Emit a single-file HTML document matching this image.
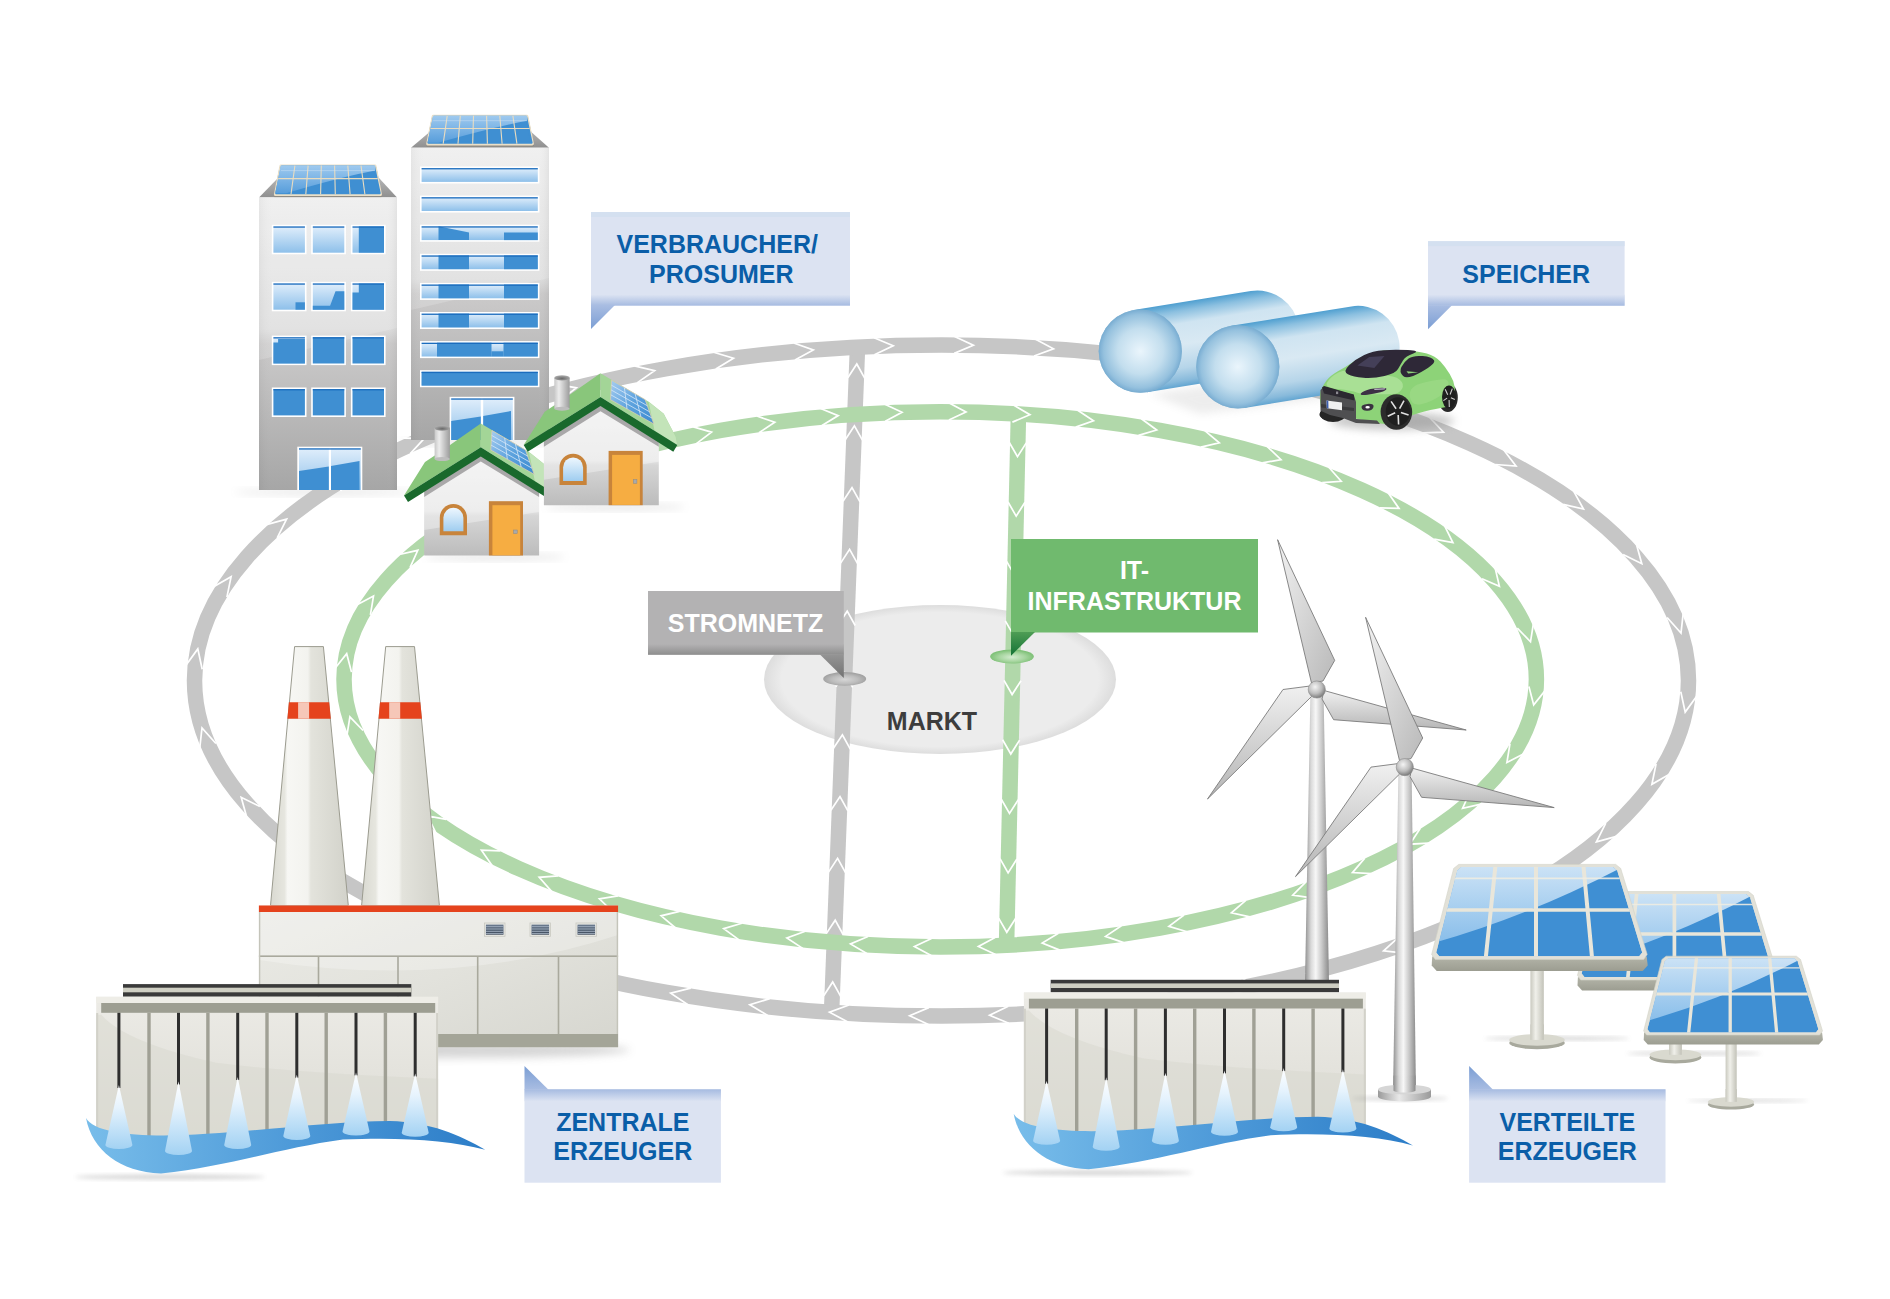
<!DOCTYPE html>
<html><head><meta charset="utf-8"><title>Smart Grid</title>
<style>html,body{margin:0;padding:0;background:#fff;overflow:hidden;}svg{display:block;}</style>
</head><body>
<svg width="1890" height="1299" viewBox="0 0 1890 1299">
<defs>

<filter id="blur4" x="-20%" y="-50%" width="140%" height="200%"><feGaussianBlur stdDeviation="4"/></filter>
<filter id="blur2" x="-20%" y="-50%" width="140%" height="200%"><feGaussianBlur stdDeviation="2"/></filter>
<filter id="blur6" x="-20%" y="-80%" width="140%" height="260%"><feGaussianBlur stdDeviation="6"/></filter>
<linearGradient id="lblBot" x1="0" y1="0" x2="0" y2="1"><stop offset="0" stop-color="#dce3f2"/><stop offset="1" stop-color="#a6bbe1"/></linearGradient>
<linearGradient id="lblTail" x1="0" y1="0" x2="0" y2="1"><stop offset="0" stop-color="#a9bde2"/><stop offset="1" stop-color="#7b9ed4"/></linearGradient>
<linearGradient id="lblTailUp" x1="0" y1="1" x2="0" y2="0"><stop offset="0" stop-color="#a9bde2"/><stop offset="1" stop-color="#7b9ed4"/></linearGradient>
<linearGradient id="lblTop" x1="0" y1="0" x2="0" y2="1"><stop offset="0" stop-color="#a6bbe1"/><stop offset="1" stop-color="#dce3f2"/></linearGradient>
<linearGradient id="grayBot" x1="0" y1="0" x2="0" y2="1"><stop offset="0" stop-color="#b3b2b3"/><stop offset="1" stop-color="#8e8e8e"/></linearGradient>
<linearGradient id="grayTail" x1="0" y1="0" x2="0" y2="1"><stop offset="0" stop-color="#959595"/><stop offset="1" stop-color="#727272"/></linearGradient>
<linearGradient id="greenTail" x1="0" y1="0" x2="0" y2="1"><stop offset="0" stop-color="#4f9d55"/><stop offset="1" stop-color="#137235"/></linearGradient>
<radialGradient id="nodeGray" cx="0.5" cy="0.55" r="0.5"><stop offset="0" stop-color="#d6d6d6"/><stop offset="0.6" stop-color="#bdbdbd"/><stop offset="1" stop-color="#a3a3a3"/></radialGradient>
<radialGradient id="nodeGreen" cx="0.5" cy="0.55" r="0.5"><stop offset="0" stop-color="#d4ecd0"/><stop offset="0.6" stop-color="#a6d59f"/><stop offset="1" stop-color="#7fc178"/></radialGradient>
<radialGradient id="marketG" cx="0.5" cy="0.5" r="0.5"><stop offset="0.9" stop-color="#ececec"/><stop offset="1" stop-color="#dddddd"/></radialGradient>


<linearGradient id="bldg" x1="0" y1="0" x2="0" y2="1">
 <stop offset="0" stop-color="#ededed"/><stop offset="0.45" stop-color="#dcdcdc"/>
 <stop offset="0.5" stop-color="#cbcaca"/><stop offset="1" stop-color="#a6a6a6"/></linearGradient>
<linearGradient id="bldgSide" x1="0" y1="0" x2="1" y2="0">
 <stop offset="0" stop-color="#000" stop-opacity="0.04"/><stop offset="0.1" stop-color="#fff" stop-opacity="0.0"/>
 <stop offset="0.92" stop-color="#fff" stop-opacity="0"/><stop offset="1" stop-color="#000" stop-opacity="0.05"/></linearGradient>
<linearGradient id="roofG" x1="0" y1="0" x2="0" y2="1"><stop offset="0" stop-color="#b4b4b4"/><stop offset="1" stop-color="#8f8f8f"/></linearGradient>
<linearGradient id="winL" x1="0" y1="0" x2="0" y2="1"><stop offset="0" stop-color="#e0eefb"/><stop offset="1" stop-color="#8ec0ea"/></linearGradient>
<linearGradient id="panelCell" x1="0" y1="0" x2="0" y2="1"><stop offset="0" stop-color="#a9d0f2"/><stop offset="1" stop-color="#5a9fdc"/></linearGradient>


<linearGradient id="houseBody" x1="0" y1="0" x2="0" y2="1">
 <stop offset="0" stop-color="#efefef"/><stop offset="0.55" stop-color="#e4e4e4"/><stop offset="0.6" stop-color="#d6d6d6"/><stop offset="1" stop-color="#bcbcbc"/></linearGradient>
<linearGradient id="chim" x1="0" y1="0" x2="1" y2="0">
 <stop offset="0" stop-color="#c8c8c8"/><stop offset="0.3" stop-color="#ececec"/><stop offset="1" stop-color="#9c9c9c"/></linearGradient>
<linearGradient id="archWin" x1="0" y1="0" x2="0" y2="1"><stop offset="0" stop-color="#eef7fe"/><stop offset="1" stop-color="#9fcdf0"/></linearGradient>
<linearGradient id="hpanel" x1="0" y1="0" x2="1" y2="1"><stop offset="0" stop-color="#a7cdf0"/><stop offset="0.5" stop-color="#5ea3de"/><stop offset="1" stop-color="#3a8ad0"/></linearGradient>
<radialGradient id="chimTop" cx="0.5" cy="0.6" r="0.6"><stop offset="0" stop-color="#6a6a6a"/><stop offset="1" stop-color="#b0b0b0"/></radialGradient>


<linearGradient id="chimG" x1="0" y1="0" x2="1" y2="0">
 <stop offset="0" stop-color="#d9d9d1"/><stop offset="0.18" stop-color="#e6e6df"/><stop offset="0.22" stop-color="#f7f7f4"/>
 <stop offset="0.48" stop-color="#f3f3ef"/><stop offset="0.52" stop-color="#e3e3dc"/><stop offset="1" stop-color="#d2d2ca"/></linearGradient>
<linearGradient id="facG" x1="0" y1="0" x2="1" y2="1">
 <stop offset="0" stop-color="#ebebe6"/><stop offset="0.5" stop-color="#e2e2dc"/><stop offset="1" stop-color="#d6d6cf"/></linearGradient>
<linearGradient id="ventG" x1="0" y1="0" x2="0" y2="1"><stop offset="0" stop-color="#6b7b90"/><stop offset="1" stop-color="#3f4b5c"/></linearGradient>
<linearGradient id="damG" x1="0" y1="0" x2="0" y2="1">
 <stop offset="0" stop-color="#ecebe6"/><stop offset="1" stop-color="#dddcd5"/></linearGradient>
<linearGradient id="waterG" x1="0" y1="0" x2="1" y2="0">
 <stop offset="0" stop-color="#78bdea"/><stop offset="0.5" stop-color="#4f9bd9"/><stop offset="1" stop-color="#2c7dc8"/></linearGradient>
<linearGradient id="coneG" x1="0" y1="0" x2="0" y2="1">
 <stop offset="0" stop-color="#ffffff"/><stop offset="0.35" stop-color="#e6f3fd"/><stop offset="1" stop-color="#a3d2f3"/></linearGradient>


<linearGradient id="towerG" x1="0" y1="0" x2="1" y2="0">
 <stop offset="0" stop-color="#8f8f8f"/><stop offset="0.25" stop-color="#d9d9d9"/><stop offset="0.45" stop-color="#f7f7f7"/>
 <stop offset="0.7" stop-color="#c9c9c9"/><stop offset="1" stop-color="#8a8a8a"/></linearGradient>
<linearGradient id="bladeG" x1="0" y1="0" x2="1" y2="1">
 <stop offset="0" stop-color="#f2f2f2"/><stop offset="1" stop-color="#b9b9b9"/></linearGradient>
<linearGradient id="bladeG2" x1="0" y1="0" x2="0" y2="1">
 <stop offset="0" stop-color="#f0f0f0"/><stop offset="1" stop-color="#b5b5b5"/></linearGradient>
<radialGradient id="hubG" cx="0.4" cy="0.35" r="0.65"><stop offset="0" stop-color="#f4f4f4"/><stop offset="0.6" stop-color="#bdbdbd"/><stop offset="1" stop-color="#7d7d7d"/></radialGradient>
<linearGradient id="baseG" x1="0" y1="0" x2="1" y2="0"><stop offset="0" stop-color="#9a9a9a"/><stop offset="0.4" stop-color="#e8e8e8"/><stop offset="1" stop-color="#9a9a9a"/></linearGradient>


<linearGradient id="spBlueLight" x1="0" y1="0" x2="0" y2="1"><stop offset="0" stop-color="#d5e8f8"/><stop offset="1" stop-color="#8cc0eb"/></linearGradient>
<linearGradient id="spBand" x1="0" y1="0" x2="0" y2="1"><stop offset="0" stop-color="#b4b5a9"/><stop offset="1" stop-color="#9c9d91"/></linearGradient>
<linearGradient id="poleG" x1="0" y1="0" x2="1" y2="0"><stop offset="0" stop-color="#c9c9bf"/><stop offset="0.4" stop-color="#f0f0ea"/><stop offset="1" stop-color="#c2c2b8"/></linearGradient>

<linearGradient id="tk1" gradientUnits="userSpaceOnUse" x1="1133.6" y1="310.1" x2="1147.0" y2="392.3">
 <stop offset="0" stop-color="#4f9fd0"/><stop offset="0.1" stop-color="#8cc0e0"/><stop offset="0.25" stop-color="#cfe4f1"/>
 <stop offset="0.5" stop-color="#d9e9f3"/><stop offset="0.78" stop-color="#b6d5e9"/><stop offset="0.93" stop-color="#88badb"/><stop offset="1" stop-color="#62a5d1"/></linearGradient>
<radialGradient id="tk1S" cx="0.5" cy="0.5" r="0.5" fx="0.5" fy="0.5">
 <stop offset="0" stop-color="#eaf5fc"/><stop offset="0.55" stop-color="#c3deee"/><stop offset="0.88" stop-color="#95c1de"/><stop offset="1" stop-color="#78acd2"/></radialGradient>
<linearGradient id="tk2" gradientUnits="userSpaceOnUse" x1="1231.2" y1="325.7" x2="1244.4" y2="407.9">
 <stop offset="0" stop-color="#4f9fd0"/><stop offset="0.1" stop-color="#8cc0e0"/><stop offset="0.25" stop-color="#cfe4f1"/>
 <stop offset="0.5" stop-color="#d9e9f3"/><stop offset="0.78" stop-color="#b6d5e9"/><stop offset="0.93" stop-color="#88badb"/><stop offset="1" stop-color="#62a5d1"/></linearGradient>
<radialGradient id="tk2S" cx="0.5" cy="0.5" r="0.5" fx="0.5" fy="0.5">
 <stop offset="0" stop-color="#eaf5fc"/><stop offset="0.55" stop-color="#c3deee"/><stop offset="0.88" stop-color="#95c1de"/><stop offset="1" stop-color="#78acd2"/></radialGradient>
</defs>
<rect width="1890" height="1299" fill="#ffffff"/>
<ellipse cx="325.0" cy="492.0" rx="90.0" ry="3.0" fill="#808080" opacity="0.20" filter="url(#blur4)"/>
<ellipse cx="480.0" cy="442.0" rx="80.0" ry="3.0" fill="#808080" opacity="0.25" filter="url(#blur4)"/>
<ellipse cx="495.0" cy="557.0" rx="70.0" ry="3.0" fill="#808080" opacity="0.22" filter="url(#blur4)"/>
<ellipse cx="615.0" cy="507.0" rx="70.0" ry="3.0" fill="#808080" opacity="0.22" filter="url(#blur4)"/>
<ellipse cx="940" cy="679.5" rx="176" ry="74.5" fill="url(#marketG)"/>
<line x1="857.6" y1="345" x2="831.4" y2="1016" stroke="#c6c6c6" stroke-width="15.5"/>
<path d="M864.8 378.3L856.8 364.0L847.8 377.7M862.4 440.1L854.4 425.8L845.4 439.5M860.0 501.9L852.0 487.6L843.0 501.3M857.6 563.7L849.6 549.4L840.6 563.1M855.2 625.5L847.2 611.2L838.2 624.9M852.7 687.3L844.8 673.0L835.8 686.7M850.3 749.1L842.4 734.8L833.3 748.5M847.9 810.9L840.0 796.6L830.9 810.3M845.5 872.7L837.6 858.4L828.5 872.1M843.1 934.5L835.2 920.2L826.1 933.9M840.7 996.3L832.7 982.0L823.7 995.7" fill="none" stroke="#fff" stroke-width="1.7"/>
<ellipse cx="941.5" cy="680.5" rx="747.0" ry="335.5" fill="none" stroke="#c6c6c6" stroke-width="15.5"/>
<path d="M874.4 354.8L893.2 345.7L874.0 337.8M954.2 353.4L973.4 345.3L954.6 336.4M1034.0 356.0L1053.5 348.8L1035.1 339.0M1113.3 362.4L1133.2 356.2L1115.3 345.5M1192.2 372.9L1212.3 367.8L1195.1 356.2M1270.4 387.8L1290.8 383.9L1274.3 371.3M1347.5 407.6L1368.1 405.1L1352.5 391.3M1422.7 432.8L1443.5 432.1L1429.2 417.0M1495.3 464.5L1516.0 466.1L1503.4 449.6M1563.2 504.3L1583.5 509.0L1573.5 490.8M1623.1 554.5L1641.8 563.7L1636.2 543.6M1667.1 617.5L1681.0 633.0L1683.3 612.3M1680.8 691.7L1685.2 712.1L1697.4 695.2M1656.1 763.9L1651.9 784.3L1669.9 773.9M1605.8 823.2L1596.4 841.9L1616.5 836.4M1542.5 870.1L1530.3 887.0L1551.0 884.9M1472.7 907.3L1458.6 922.6L1479.5 922.9M1399.0 936.9L1383.6 950.9L1404.3 953.1M1323.1 960.3L1306.7 973.2L1327.2 976.8M1245.6 978.4L1228.4 990.3L1248.7 995.1M1167.2 991.9L1149.5 1002.7L1169.4 1008.7M1088.0 1001.1L1069.7 1011.0L1089.3 1018.0M1008.3 1006.3L989.6 1015.3L1008.8 1023.3M928.8 1007.6L909.6 1015.7L928.4 1024.6M849.0 1005.0L829.5 1012.2L847.9 1022.0M769.7 998.6L749.8 1004.8L767.7 1015.5M690.8 988.1L670.7 993.2L687.9 1004.8M612.6 973.2L592.2 977.1L608.7 989.7M535.5 953.4L514.9 955.9L530.5 969.7M460.3 928.2L439.5 928.9L453.8 944.0M387.7 896.5L367.0 894.9L379.6 911.4M319.8 856.7L299.5 852.0L309.5 870.2M259.9 806.5L241.2 797.3L246.8 817.4M215.9 743.5L202.0 728.0L199.7 748.7M202.2 669.3L197.8 648.9L185.6 665.8M226.9 597.1L231.1 576.7L213.1 587.1M277.2 537.8L286.6 519.1L266.5 524.6M340.5 490.9L352.7 474.0L332.0 476.1M410.3 453.7L424.4 438.4L403.5 438.1M484.0 424.1L499.4 410.1L478.7 407.9M559.9 400.7L576.3 387.8L555.8 384.2M637.4 382.6L654.6 370.7L634.3 365.9M715.8 369.1L733.5 358.3L713.6 352.3M795.0 359.9L813.3 350.0L793.7 343.0" fill="none" stroke="#fff" stroke-width="1.7" stroke-linejoin="miter"/>
<line x1="1018.5" y1="412" x2="1006.5" y2="947" stroke="#b1d8aa" stroke-width="15.5"/>
<path d="M1009.3 442.5L1017.5 456.7L1026.3 442.9M1008.0 502.0L1016.2 516.1L1025.0 502.3M1006.6 561.4L1014.8 575.6L1023.6 561.8M1005.3 620.9L1013.5 635.1L1022.3 621.2M1004.0 680.3L1012.1 694.5L1021.0 680.7M1002.6 739.8L1010.8 754.0L1019.6 740.1M1001.3 799.2L1009.5 813.4L1018.3 799.6M1000.0 858.7L1008.1 872.9L1016.9 859.0M998.6 918.1L1006.8 932.3L1015.6 918.5" fill="none" stroke="#fff" stroke-width="1.7"/>
<ellipse cx="940.2" cy="679.3" rx="596.2" ry="267.6" fill="none" stroke="#b1d8aa" stroke-width="15.5"/>
<path d="M885.3 421.2L902.0 412.2L884.8 404.2M948.9 420.1L966.0 412.0L949.2 403.1M1012.4 422.1L1029.9 414.7L1013.6 405.1M1075.7 427.1L1093.5 420.7L1077.7 410.2M1138.5 435.4L1156.7 430.0L1141.4 418.7M1200.8 447.2L1219.3 442.8L1204.8 430.6M1262.3 462.8L1281.0 459.7L1267.3 446.6M1322.2 482.7L1341.2 481.3L1328.6 467.0M1380.0 507.8L1399.0 508.4L1388.1 492.8M1434.2 539.2L1452.9 542.7L1444.5 525.7M1482.0 578.7L1499.4 586.4L1495.1 567.9M1517.3 628.1L1530.5 641.8L1533.5 623.0M1528.9 686.5L1533.7 704.9L1545.5 690.1M1510.0 743.7L1506.9 762.5L1523.8 753.7M1470.4 791.0L1462.6 808.3L1481.1 804.1M1420.3 828.3L1409.8 844.2L1428.8 843.1M1364.8 858.1L1352.5 872.6L1371.5 873.7M1306.2 881.7L1292.8 895.1L1311.6 897.9M1245.8 900.4L1231.4 912.8L1249.9 916.9M1184.0 915.0L1168.9 926.4L1187.1 931.7M1121.4 925.8L1105.6 936.4L1123.6 942.6M1058.4 933.2L1042.2 943.0L1059.8 950.1M995.1 937.4L978.4 946.4L995.6 954.4M931.5 938.5L914.4 946.6L931.2 955.5M868.0 936.5L850.5 943.9L866.8 953.5M804.7 931.5L786.9 937.9L802.7 948.4M741.9 923.2L723.7 928.6L739.0 939.9M679.6 911.4L661.1 915.8L675.6 928.0M618.1 895.8L599.4 898.9L613.1 912.0M558.2 875.9L539.2 877.3L551.8 891.6M500.4 850.8L481.4 850.2L492.3 865.8M446.2 819.4L427.5 815.9L435.9 832.9M398.4 779.9L381.0 772.2L385.3 790.7M363.1 730.5L349.9 716.8L346.9 735.6M351.5 672.1L346.7 653.7L334.9 668.5M370.4 614.9L373.5 596.1L356.6 604.9M410.0 567.6L417.8 550.3L399.3 554.5M460.1 530.3L470.6 514.4L451.6 515.5M515.6 500.5L527.9 486.0L508.9 484.9M574.2 476.9L587.6 463.5L568.8 460.7M634.6 458.2L649.0 445.8L630.5 441.7M696.4 443.6L711.5 432.2L693.3 426.9M759.0 432.8L774.8 422.2L756.8 416.0M822.0 425.4L838.2 415.6L820.6 408.5" fill="none" stroke="#fff" stroke-width="1.7" stroke-linejoin="miter"/>
<ellipse cx="844.7" cy="678.9" rx="21.5" ry="6.8" fill="url(#nodeGray)"/>
<ellipse cx="1012" cy="656.5" rx="21.8" ry="7.1" fill="url(#nodeGreen)"/>
<rect x="648" y="591" width="195.8" height="63.7" fill="#b3b2b3"/>
<rect x="648" y="644" width="195.8" height="10.7" fill="url(#grayBot)"/>
<path d="M819.7 654.2L843.8 654.2L843.8 678Z" fill="url(#grayTail)"/>
<text x="745.5" y="632" text-anchor="middle" font-family="Liberation Sans, sans-serif" font-weight="bold" font-size="25" fill="#ffffff">STROMNETZ</text>
<rect x="1011" y="539" width="247" height="93.5" fill="#70ba6e"/>
<path d="M1011 632L1035 632L1011 655.7Z" fill="url(#greenTail)"/>
<text x="1134.5" y="578.7" text-anchor="middle" font-family="Liberation Sans, sans-serif" font-weight="bold" font-size="25" fill="#ffffff">IT-</text>
<text x="1134.5" y="610" text-anchor="middle" font-family="Liberation Sans, sans-serif" font-weight="bold" font-size="25" fill="#ffffff">INFRASTRUKTUR</text>
<text x="932" y="730" text-anchor="middle" font-family="Liberation Sans, sans-serif" font-weight="bold" font-size="25" fill="#3d3d3d">MARKT</text>
<path d="M259 197.5L278 178L379 178L397 197.5Z" fill="url(#roofG)"/>
<path d="M280.9 168.0L375.0 168.0L380.5 196.0L275.4 196.0Z" fill="#8e8b84" stroke="#8e8b84" stroke-width="3" stroke-linejoin="round"/>
<path d="M280.9 166.0L375.0 166.0L380.5 194.5L275.4 194.5Z" fill="#ebe0c8" stroke="#ebe0c8" stroke-width="3" stroke-linejoin="round"/>
<path d="M281.7 166.6L374.2 166.6L379.7 193.3L276.2 193.3Z" fill="#3f8fd2" stroke="#3f8fd2" stroke-width="2" stroke-linejoin="round"/>
<path d="M280.7 165.6L375.2 165.6L375.2 170.6Q342.9 176.6 286.2 193.3L275.2 193.3Z" fill="url(#panelCell)" opacity="0.9"/>
<path d="M294.9 165.6L291.0 194.3M308.1 165.6L305.8 194.3M321.3 165.6L320.6 194.3M334.6 165.6L335.3 194.3M347.8 165.6L350.1 194.3M361.0 165.6L364.9 194.3M278.2 178.6L377.7 178.6" stroke="#e9dcc0" stroke-width="1.1" fill="none"/>
<path d="M280.9 170.6L375.0 170.6" stroke="#cfe3f5" stroke-width="0.6" fill="none" opacity="0.8"/>
<rect x="259" y="197.3" width="138" height="292.7" fill="url(#bldg)"/>
<path d="M259 197.3L397 197.3L397 328L259 360Z" fill="#ffffff" opacity="0.18"/>
<rect x="259" y="197.3" width="138" height="292.7" fill="url(#bldgSide)"/>
<rect x="271.8" y="224.8" width="34.7" height="29.5" fill="#ffffff"/>
<rect x="273.4" y="226.4" width="31.5" height="26.3" fill="url(#winL)"/>
<rect x="273.4" y="226.4" width="31.5" height="1.3" fill="#1b6cbd"/>
<rect x="311.2" y="224.8" width="34.7" height="29.5" fill="#ffffff"/>
<rect x="312.8" y="226.4" width="31.5" height="26.3" fill="url(#winL)"/>
<rect x="312.8" y="226.4" width="31.5" height="1.3" fill="#1b6cbd"/>
<rect x="350.9" y="224.8" width="34.7" height="29.5" fill="#ffffff"/>
<rect x="352.5" y="226.4" width="31.5" height="26.3" fill="url(#winL)"/>
<path d="M358.8 226.4L384.0 226.4L384.0 252.7L358.8 252.7Z" fill="#3f8fd2"/>
<rect x="352.5" y="226.4" width="31.5" height="1.3" fill="#1b6cbd"/>
<rect x="271.8" y="281.8" width="34.7" height="29.5" fill="#ffffff"/>
<rect x="273.4" y="283.4" width="31.5" height="26.3" fill="url(#winL)"/>
<path d="M295.5 302.3L304.9 302.3L304.9 309.7L295.5 309.7Z" fill="#3f8fd2"/>
<rect x="273.4" y="283.4" width="31.5" height="1.3" fill="#1b6cbd"/>
<rect x="311.2" y="281.8" width="34.7" height="29.5" fill="#ffffff"/>
<rect x="312.8" y="283.4" width="31.5" height="26.3" fill="url(#winL)"/>
<path d="M312.8 305.8L330.1 305.8L335.5 291.3L344.3 291.3L344.3 309.7L312.8 309.7Z" fill="#3f8fd2"/>
<rect x="312.8" y="283.4" width="31.5" height="1.3" fill="#1b6cbd"/>
<rect x="350.9" y="281.8" width="34.7" height="29.5" fill="#ffffff"/>
<rect x="352.5" y="283.4" width="31.5" height="26.3" fill="url(#winL)"/>
<path d="M358.8 283.4L384.0 283.4L384.0 309.7L352.5 309.7L352.5 292.6L358.8 292.6Z" fill="#3f8fd2"/>
<rect x="352.5" y="283.4" width="31.5" height="1.3" fill="#1b6cbd"/>
<rect x="271.8" y="335.6" width="34.7" height="29.5" fill="#ffffff"/>
<rect x="273.4" y="337.2" width="31.5" height="26.3" fill="url(#winL)"/>
<path d="M273.4 342.5L278.1 342.5L278.1 339.0L304.9 339.0L304.9 363.5L273.4 363.5Z" fill="#3f8fd2"/>
<rect x="273.4" y="337.2" width="31.5" height="1.3" fill="#1b6cbd"/>
<rect x="311.2" y="335.6" width="34.7" height="29.5" fill="#ffffff"/>
<rect x="312.8" y="337.2" width="31.5" height="26.3" fill="#3f8fd2"/>
<rect x="312.8" y="337.2" width="31.5" height="1.3" fill="#1b6cbd"/>
<rect x="350.9" y="335.6" width="34.7" height="29.5" fill="#ffffff"/>
<rect x="352.5" y="337.2" width="31.5" height="26.3" fill="#3f8fd2"/>
<rect x="352.5" y="337.2" width="31.5" height="1.3" fill="#1b6cbd"/>
<rect x="271.8" y="387.5" width="34.7" height="29.5" fill="#ffffff"/>
<rect x="273.4" y="389.1" width="31.5" height="26.3" fill="#3f8fd2"/>
<rect x="273.4" y="389.1" width="31.5" height="1.3" fill="#1b6cbd"/>
<rect x="311.2" y="387.5" width="34.7" height="29.5" fill="#ffffff"/>
<rect x="312.8" y="389.1" width="31.5" height="26.3" fill="#3f8fd2"/>
<rect x="312.8" y="389.1" width="31.5" height="1.3" fill="#1b6cbd"/>
<rect x="350.9" y="387.5" width="34.7" height="29.5" fill="#ffffff"/>
<rect x="352.5" y="389.1" width="31.5" height="26.3" fill="#3f8fd2"/>
<rect x="352.5" y="389.1" width="31.5" height="1.3" fill="#1b6cbd"/>
<rect x="297.3" y="446.7" width="65" height="43.3" fill="#ffffff"/>
<rect x="299" y="448.3" width="29.8" height="41.7" fill="url(#winL)"/>
<rect x="331" y="448.3" width="29.8" height="41.7" fill="url(#winL)"/>
<path d="M299 471L328.8 466.5L328.8 490L299 490Z" fill="#3f8fd2"/>
<path d="M331 466L359.5 461L359.5 490L331 490Z" fill="#3f8fd2"/>
<rect x="299" y="448.3" width="61.8" height="1.3" fill="#1b6cbd"/>
<path d="M411 147.8L432 130L529 130L549 147.8Z" fill="url(#roofG)"/>
<path d="M433.2 118.2L526.9 118.2L532.4 145.4L427.7 145.4Z" fill="#8e8b84" stroke="#8e8b84" stroke-width="3" stroke-linejoin="round"/>
<path d="M433.2 116.2L526.9 116.2L532.4 143.9L427.7 143.9Z" fill="#ebe0c8" stroke="#ebe0c8" stroke-width="3" stroke-linejoin="round"/>
<path d="M434.0 116.8L526.1 116.8L531.6 142.7L428.5 142.7Z" fill="#3f8fd2" stroke="#3f8fd2" stroke-width="2" stroke-linejoin="round"/>
<path d="M433.0 115.8L527.1 115.8L527.1 120.8Q495.1 126.8 438.5 142.7L427.5 142.7Z" fill="url(#panelCell)" opacity="0.9"/>
<path d="M447.2 115.8L443.2 143.7M460.3 115.8L458.0 143.7M473.5 115.8L472.7 143.7M486.6 115.8L487.4 143.7M499.8 115.8L502.1 143.7M512.9 115.8L516.9 143.7M430.5 128.5L529.6 128.5" stroke="#e9dcc0" stroke-width="1.1" fill="none"/>
<path d="M433.2 120.7L526.9 120.7" stroke="#cfe3f5" stroke-width="0.6" fill="none" opacity="0.8"/>
<rect x="411" y="147.7" width="138" height="292.3" fill="url(#bldg)"/>
<path d="M411 147.7L549 147.7L549 278L411 310Z" fill="#ffffff" opacity="0.18"/>
<rect x="411" y="147.7" width="138" height="292.3" fill="url(#bldgSide)"/>
<rect x="420.0" y="166.5" width="119.4" height="17" fill="#ffffff"/>
<rect x="421.6" y="168.1" width="116.2" height="13.8" fill="url(#winL)"/>
<rect x="421.6" y="168.1" width="116.2" height="1.3" fill="#1b6cbd"/>
<rect x="420.0" y="195.6" width="119.4" height="17" fill="#ffffff"/>
<rect x="421.6" y="197.2" width="116.2" height="13.8" fill="url(#winL)"/>
<rect x="421.6" y="197.2" width="116.2" height="1.3" fill="#1b6cbd"/>
<rect x="420.0" y="224.7" width="119.4" height="17" fill="#ffffff"/>
<rect x="421.6" y="226.3" width="116.2" height="13.8" fill="url(#winL)"/>
<path d="M438.5 226.3L469.0 232.5L469.0 240.1L438.5 240.1Z" fill="#3f8fd2"/>
<rect x="504.0" y="232.5" width="33.8" height="7.6" fill="#3f8fd2"/>
<rect x="421.6" y="226.3" width="116.2" height="1.3" fill="#1b6cbd"/>
<rect x="420.0" y="253.8" width="119.4" height="17" fill="#ffffff"/>
<rect x="421.6" y="255.4" width="116.2" height="13.8" fill="url(#winL)"/>
<rect x="438.5" y="255.4" width="30.5" height="13.8" fill="#3f8fd2"/>
<rect x="504.0" y="255.4" width="33.8" height="13.8" fill="#3f8fd2"/>
<rect x="421.6" y="255.4" width="116.2" height="1.3" fill="#1b6cbd"/>
<rect x="420.0" y="282.9" width="119.4" height="17" fill="#ffffff"/>
<rect x="421.6" y="284.5" width="116.2" height="13.8" fill="url(#winL)"/>
<rect x="438.5" y="284.5" width="30.5" height="13.8" fill="#3f8fd2"/>
<rect x="504.0" y="284.5" width="33.8" height="13.8" fill="#3f8fd2"/>
<rect x="421.6" y="284.5" width="116.2" height="1.3" fill="#1b6cbd"/>
<rect x="420.0" y="312.0" width="119.4" height="17" fill="#ffffff"/>
<rect x="421.6" y="313.6" width="116.2" height="13.8" fill="url(#winL)"/>
<rect x="438.5" y="313.6" width="30.5" height="13.8" fill="#3f8fd2"/>
<rect x="504.0" y="313.6" width="33.8" height="13.8" fill="#3f8fd2"/>
<rect x="421.6" y="313.6" width="116.2" height="1.3" fill="#1b6cbd"/>
<rect x="420.0" y="341.1" width="119.4" height="17" fill="#ffffff"/>
<rect x="421.6" y="342.7" width="116.2" height="13.8" fill="url(#winL)"/>
<rect x="437.0" y="342.7" width="54.5" height="13.8" fill="#3f8fd2"/>
<rect x="491.5" y="351.3" width="12.0" height="5.2" fill="#3f8fd2"/>
<rect x="503.5" y="342.7" width="34.3" height="13.8" fill="#3f8fd2"/>
<rect x="421.6" y="342.7" width="116.2" height="1.3" fill="#1b6cbd"/>
<rect x="420.0" y="370.2" width="119.4" height="17" fill="#ffffff"/>
<rect x="421.6" y="371.8" width="116.2" height="13.8" fill="url(#winL)"/>
<rect x="421.6" y="371.8" width="116.2" height="13.8" fill="#3f8fd2"/>
<rect x="421.6" y="371.8" width="116.2" height="1.3" fill="#1b6cbd"/>
<rect x="449.6" y="396.8" width="64.8" height="43.2" fill="#ffffff"/>
<rect x="451.2" y="398.4" width="29.6" height="41.6" fill="url(#winL)"/>
<rect x="483.2" y="398.4" width="29.6" height="41.6" fill="url(#winL)"/>
<path d="M451.2 421L480.8 416.5L480.8 440L451.2 440Z" fill="#3f8fd2"/>
<path d="M483.2 416L511 411L511 440L483.2 440Z" fill="#3f8fd2"/>
<rect x="451.2" y="398.4" width="61.6" height="1.3" fill="#1b6cbd"/>
<path d="M404.0 495.4L425.0 462.0L440.0 452.0L480.8 423.6L480.8 447.2Z" fill="#89c67b"/>
<path d="M480.8 423.6L529.0 452.0L544.0 464.0L556.0 487.0L557.6 495.4L480.8 447.2Z" fill="#a3d597"/>
<path d="M529.0 452.0L544.0 464.0L556.0 487.0L557.6 495.4L535.0 482.0Z" fill="#c3e4b9"/>
<rect x="434.6" y="428.0" width="15.3" height="31" fill="url(#chim)"/>
<ellipse cx="442.2" cy="428.2" rx="7.7" ry="2.6" fill="url(#chimTop)"/>
<ellipse cx="442.2" cy="459.0" rx="7.65" ry="2" fill="#bdbdbd"/>
<path d="M491.9 430.5L525.5 450.0L534.2 474.3L490.8 450.0Z" fill="url(#hpanel)" stroke="#d8cdb4" stroke-width="0.8"/>
<path d="M504.7 437.9L507.3 459.2M515.4 444.1L521.2 467.0M491.6 435.4L527.7 456.1M491.4 440.2L529.9 462.1M491.1 445.1L532.0 468.2" stroke="#d6e8f7" stroke-width="0.9" fill="none" opacity="0.9"/>
<path d="M424.2 555.5L424.2 492.0L480.8 456.0L539.1 492.0L539.1 555.5Z" fill="url(#houseBody)"/>
<path d="M424.2 492.0L480.8 456.0L539.1 492.0L539.1 512.0L424.2 530.0Z" fill="#ffffff" opacity="0.35"/>
<path d="M424.2 491.0L480.8 455.5L539.1 491.0L539.1 497.0L480.8 461.5L424.2 497.0Z" fill="#a9a8a9"/>
<path d="M404.0 495.4L480.8 447.2L557.6 495.4L553.6 502.0L480.8 456.4L408.0 502.0Z" fill="#19692c"/>
<path d="M439.8 535.3L439.8 517.7A13.6 13.6 0 0 1 467.0 517.7L467.0 535.3Z" fill="#c8843b"/>
<path d="M443.4 531.3L443.4 517.7A10.0 10.0 0 0 1 463.4 517.7L463.4 531.3Z" fill="url(#archWin)"/>
<rect x="488.9" y="501.2" width="34.1" height="54.3" fill="#c8843b"/>
<rect x="492.4" y="505.2" width="27.8" height="50" fill="#f6ad42"/>
<rect x="513.6" y="530.0" width="3.6" height="3.6" fill="#a9a9a9" stroke="#8a8a8a" stroke-width="0.5"/>
<path d="M523.7 445.1L544.7 411.7L559.7 401.7L600.5 373.3L600.5 396.9Z" fill="#89c67b"/>
<path d="M600.5 373.3L648.7 401.7L663.7 413.7L675.7 436.7L677.3 445.1L600.5 396.9Z" fill="#a3d597"/>
<path d="M648.7 401.7L663.7 413.7L675.7 436.7L677.3 445.1L654.7 431.7Z" fill="#c3e4b9"/>
<rect x="554.3" y="377.7" width="15.3" height="31" fill="url(#chim)"/>
<ellipse cx="562.0" cy="377.9" rx="7.7" ry="2.6" fill="url(#chimTop)"/>
<ellipse cx="562.0" cy="408.7" rx="7.65" ry="2" fill="#bdbdbd"/>
<path d="M611.6 380.2L645.2 399.7L653.9 424.0L610.5 399.7Z" fill="url(#hpanel)" stroke="#d8cdb4" stroke-width="0.8"/>
<path d="M624.4 387.6L627.0 408.9M635.1 393.8L640.9 416.7M611.3 385.1L647.4 405.8M611.1 389.9L649.6 411.8M610.8 394.8L651.7 417.9" stroke="#d6e8f7" stroke-width="0.9" fill="none" opacity="0.9"/>
<path d="M543.9 505.2L543.9 441.7L600.5 405.7L658.8 441.7L658.8 505.2Z" fill="url(#houseBody)"/>
<path d="M543.9 441.7L600.5 405.7L658.8 441.7L658.8 461.7L543.9 479.7Z" fill="#ffffff" opacity="0.35"/>
<path d="M543.9 440.7L600.5 405.2L658.8 440.7L658.8 446.7L600.5 411.2L543.9 446.7Z" fill="#a9a8a9"/>
<path d="M523.7 445.1L600.5 396.9L677.3 445.1L673.3 451.7L600.5 406.1L527.7 451.7Z" fill="#19692c"/>
<path d="M559.5 485.0L559.5 467.4A13.6 13.6 0 0 1 586.7 467.4L586.7 485.0Z" fill="#c8843b"/>
<path d="M563.1 481.0L563.1 467.4A10.0 10.0 0 0 1 583.1 467.4L583.1 481.0Z" fill="url(#archWin)"/>
<rect x="608.6" y="450.9" width="34.1" height="54.3" fill="#c8843b"/>
<rect x="612.1" y="454.9" width="27.8" height="50" fill="#f6ad42"/>
<rect x="633.3" y="479.7" width="3.6" height="3.6" fill="#a9a9a9" stroke="#8a8a8a" stroke-width="0.5"/>
<path d="M1150 394L1270 376L1330 398L1200 414Z" fill="#8a8a8a" opacity="0.15" filter="url(#blur4)"/>
<path d="M1133.6 310.1L1250.8 291.1A41.6 41.6 0 0 1 1264.2 373.3L1147.0 392.3Z" fill="url(#tk1)"/>
<circle cx="1140.3" cy="351.2" r="41.6" fill="url(#tk1S)"/>
<circle cx="1140.3" cy="351.2" r="41.1" fill="none" stroke="#7eb0d2" stroke-width="1" opacity="0.7"/>
<path d="M1231.2 325.7L1351.4 306.4A41.6 41.6 0 0 1 1364.6 388.6L1244.4 407.9Z" fill="url(#tk2)"/>
<circle cx="1237.8" cy="366.8" r="41.6" fill="url(#tk2S)"/>
<circle cx="1237.8" cy="366.8" r="41.1" fill="none" stroke="#7eb0d2" stroke-width="1" opacity="0.7"/>
<ellipse cx="1392" cy="421" rx="62" ry="9" fill="#9a9a9a" opacity="0.55" filter="url(#blur4)"/>
<ellipse cx="1447.8" cy="397.5" rx="10" ry="14.5" fill="#2a2a2a"/>
<ellipse cx="1333" cy="414" rx="13" ry="8" fill="#262626"/>
<path d="M1324.0 414.5Q1321.0 411.1 1320.2 402.6Q1319.3 394.2 1321.0 389.9Q1322.7 385.7 1326.5 380.6Q1330.3 375.6 1337.9 371.3Q1345.6 367.1 1354.9 360.7Q1364.2 354.4 1375.2 351.9Q1386.2 349.3 1402.3 350.2Q1418.4 351.0 1426.8 353.5Q1435.3 356.1 1440.4 361.6Q1445.4 367.1 1449.7 373.9Q1453.9 380.6 1454.8 387.4Q1455.6 394.2 1454.3 400.1Q1453.1 406.0 1445.0 407.3Q1437.0 408.6 1424.3 411.5Q1411.6 414.5 1403.1 419.6Q1394.7 424.7 1387.0 424.2Q1379.4 423.8 1368.4 421.3Q1357.4 418.7 1349.8 417.5Q1342.2 416.2 1334.6 417.0Q1326.9 417.9 1324.0 414.5Z" fill="#8dd378"/>
<path d="M1337.9 389.1Q1323.5 387.4 1327.4 381.9Q1331.2 376.4 1338.4 372.6Q1345.6 368.8 1357.4 372.2Q1369.3 375.6 1382.0 375.6Q1394.7 375.6 1399.7 379.8Q1404.8 384.0 1401.9 389.1Q1398.9 394.2 1392.5 394.2Q1386.2 394.2 1373.5 394.2Q1360.8 394.2 1356.6 392.5Q1352.3 390.8 1337.9 389.1Z" fill="#a9e095"/>
<path d="M1409.9 397.1Q1408.2 387.4 1420.5 383.6Q1432.8 379.8 1441.2 379.4Q1449.7 378.9 1448.4 384.9Q1447.1 390.8 1439.9 395.9Q1432.8 401.0 1422.2 403.9Q1411.6 406.9 1409.9 397.1Z" fill="#9ad884" opacity="0.9"/>
<path d="M1347.9 374.2Q1342.6 371.5 1349.2 365.3Q1355.7 359.0 1364.2 355.0Q1372.6 351.0 1383.7 350.2Q1394.7 349.3 1407.8 350.1Q1420.9 350.8 1413.3 353.5Q1405.7 356.1 1403.1 360.3Q1400.6 364.6 1398.0 369.0Q1395.5 373.4 1384.5 376.0Q1373.5 378.5 1363.3 377.7Q1353.2 376.8 1347.9 374.2Z" fill="#2e2837"/>
<path d="M1357.4 365.4L1369.3 356.9L1384.5 356.1L1374.3 367.9Z" fill="#4a4560" opacity="0.8"/>
<path d="M1403.1 376.0Q1398.9 372.2 1401.4 367.1Q1404.0 362.0 1408.6 358.6Q1413.3 355.2 1422.6 356.1Q1431.9 356.9 1434.0 360.3Q1436.1 363.7 1421.7 371.7Q1407.4 379.8 1403.1 376.0Z" fill="#2e2837"/>
<path d="M1406.5 371.3L1418.4 372.2L1408.2 373.4Z" fill="#8fd37a"/>
<ellipse cx="1331.5" cy="414.5" rx="12" ry="6" fill="#262626"/>
<path d="M1320.5 390.0L1324.0 386.5L1353.8 394.9L1356.0 402.0L1356.0 419.0L1377.0 420.5L1380.0 424.0L1356.0 423.0L1342.7 418.0L1330.0 415.0L1320.5 410.8Z" fill="#4f4f51"/>
<path d="M1322.0 387.5L1324.0 386.0L1353.8 394.5L1354.5 400.4L1324.0 393.5Z" fill="#2b2830"/>
<path d="M1321.0 404.0L1354.0 408.0L1354.0 411.0L1321.0 407.5Z" fill="#3a3a3c"/>
<path d="M1326.5 400.5L1342.0 402.5L1342.0 410.2L1326.8 408.2Z" fill="#f0f0f0"/>
<path d="M1326.5 400.5L1328.3 400.7L1328.5 408.4L1326.8 408.2Z" fill="#3b5fb0"/>
<rect x="1336" y="391.5" width="2.2" height="2.6" fill="#8d8a92"/>
<path d="M1360.8 394.4Q1359.9 393.3 1364.6 391.0Q1369.3 388.7 1378.6 388.0Q1387.9 387.4 1386.2 389.5Q1384.5 391.6 1376.9 393.1Q1369.3 394.6 1365.4 395.0Q1361.6 395.4 1360.8 394.4Z" fill="#3c2f45"/>
<path d="M1374.3 388.7L1385.3 388.3L1384.5 389.5L1374.3 389.9Z" fill="#bdb6c8"/>
<path d="M1361.6 407.7Q1360.8 404.3 1367.6 403.9Q1374.3 403.5 1373.5 406.9Q1372.6 410.3 1367.6 410.7Q1362.5 411.1 1361.6 407.7Z" fill="#3a3340"/>
<ellipse cx="1367.6" cy="407.3" rx="2.2" ry="1.3" fill="#ffffff"/>
<ellipse cx="1396.4" cy="412" rx="15.8" ry="17.8" fill="#2c2c2c"/>
<ellipse cx="1398" cy="411.5" rx="12.2" ry="14.2" fill="#1f1f1f"/>
<path d="M1400.9 412.4L1408.6 414.9M1398.2 415.0L1398.6 424.5M1395.2 412.8L1387.7 416.2M1396.1 408.8L1391.1 401.4M1399.6 408.6L1404.0 400.6" stroke="#e0e0e0" stroke-width="1.6" fill="none"/>
<ellipse cx="1449" cy="397" rx="7" ry="11.5" fill="#1f1f1f"/>
<path d="M1450.9 397.8L1454.8 399.6M1449.1 400.0L1449.3 407.0M1447.1 398.1L1443.4 400.6M1447.7 394.7L1445.2 389.2M1450.1 394.5L1452.3 388.6" stroke="#d0d0d0" stroke-width="1.1" fill="none"/>
<ellipse cx="440" cy="1050" rx="190" ry="8" fill="#888" opacity="0.35" filter="url(#blur4)"/>
<path d="M294.6 646.6L323.4 646.6L348.3 905.5L270.5 905.5Z" fill="url(#chimG)" stroke="#9b9b8f" stroke-width="1"/>
<path d="M288.9 702.2L329.2 702.2L330.8 718.7L287.4 718.7Z" fill="#e5431d"/>
<rect x="298.1" y="702.2" width="11.0" height="16.5" fill="#f6c7b8"/>
<path d="M385.7 646.6L414.5 646.6L439.4 905.5L361.6 905.5Z" fill="url(#chimG)" stroke="#9b9b8f" stroke-width="1"/>
<path d="M380.0 702.2L420.3 702.2L421.9 718.7L378.5 718.7Z" fill="#e5431d"/>
<rect x="389.2" y="702.2" width="11.0" height="16.5" fill="#f6c7b8"/>
<rect x="258.9" y="905.5" width="359.2" height="141.7" fill="url(#facG)"/>
<path d="M258.9 912L618.1 912L618.1 935Q450 990 258.9 960Z" fill="#ffffff" opacity="0.25"/>
<rect x="258.9" y="905.5" width="359.2" height="6.5" fill="#e5431d"/>
<rect x="258.9" y="1034" width="359.2" height="13.2" fill="#a4a598"/>
<rect x="258.9" y="955.4" width="359.2" height="1.6" fill="#a9a99d"/>
<rect x="317.7" y="956" width="1.6" height="78" fill="#a9a99d"/>
<rect x="397.2" y="956" width="1.6" height="78" fill="#a9a99d"/>
<rect x="476.9" y="956" width="1.6" height="78" fill="#a9a99d"/>
<rect x="557.7" y="956" width="1.6" height="78" fill="#a9a99d"/>
<rect x="258.9" y="912" width="1.4" height="122" fill="#c4c4ba"/>
<rect x="616.7" y="912" width="1.4" height="122" fill="#c4c4ba"/>
<rect x="484.4" y="923" width="20.6" height="13.3" fill="#e9e9e4" stroke="#c8c8c0" stroke-width="0.8"/>
<rect x="485.9" y="924.6" width="17.6" height="10.1" fill="url(#ventG)"/>
<rect x="485.9" y="926.3" width="17.6" height="0.8" fill="#a9b6c6"/>
<rect x="485.9" y="928.6" width="17.6" height="0.8" fill="#a9b6c6"/>
<rect x="485.9" y="930.9" width="17.6" height="0.8" fill="#a9b6c6"/>
<rect x="485.9" y="933.2" width="17.6" height="0.8" fill="#a9b6c6"/>
<rect x="530.0" y="923" width="20.6" height="13.3" fill="#e9e9e4" stroke="#c8c8c0" stroke-width="0.8"/>
<rect x="531.5" y="924.6" width="17.6" height="10.1" fill="url(#ventG)"/>
<rect x="531.5" y="926.3" width="17.6" height="0.8" fill="#a9b6c6"/>
<rect x="531.5" y="928.6" width="17.6" height="0.8" fill="#a9b6c6"/>
<rect x="531.5" y="930.9" width="17.6" height="0.8" fill="#a9b6c6"/>
<rect x="531.5" y="933.2" width="17.6" height="0.8" fill="#a9b6c6"/>
<rect x="576.0" y="923" width="20.6" height="13.3" fill="#e9e9e4" stroke="#c8c8c0" stroke-width="0.8"/>
<rect x="577.5" y="924.6" width="17.6" height="10.1" fill="url(#ventG)"/>
<rect x="577.5" y="926.3" width="17.6" height="0.8" fill="#a9b6c6"/>
<rect x="577.5" y="928.6" width="17.6" height="0.8" fill="#a9b6c6"/>
<rect x="577.5" y="930.9" width="17.6" height="0.8" fill="#a9b6c6"/>
<rect x="577.5" y="933.2" width="17.6" height="0.8" fill="#a9b6c6"/>
<ellipse cx="170.0" cy="1177.0" rx="95" ry="2.5" fill="#777" opacity="0.3" filter="url(#blur2)"/>
<rect x="123.0" y="984.1" width="288.3" height="12.7" fill="#3a3a3a"/>
<rect x="123.0" y="987.7" width="288.3" height="4.6" fill="#cfcfc3"/>
<rect x="96.2" y="996.8" width="341.9" height="140" fill="url(#damG)"/>
<path d="M96.2 1014.8L96.2 1137.8L438.1 1137.8L438.1 1078.8Q296.2 1072.8 216.2 1062.8Q126.2 1042.8 101.2 1014.8Z" fill="#d9d8d0" opacity="0.55"/>
<rect x="96.2" y="996.8" width="341.9" height="6.2" fill="#eeede7"/>
<rect x="101.2" y="1003.0" width="334" height="9.8" fill="#9d9e92"/>
<rect x="96.2" y="1013.0" width="2" height="120" fill="#d2d1c9"/>
<rect x="436.1" y="1013.0" width="2" height="120" fill="#d2d1c9"/>
<rect x="147.3" y="1012.8" width="3.4" height="125" fill="#a0a095"/>
<rect x="206.2" y="1012.8" width="3.4" height="125" fill="#a0a095"/>
<rect x="265.3" y="1012.8" width="3.4" height="125" fill="#a0a095"/>
<rect x="324.5" y="1012.8" width="3.4" height="125" fill="#a0a095"/>
<rect x="383.7" y="1012.8" width="3.4" height="125" fill="#a0a095"/>
<rect x="117.4" y="1012.8" width="3" height="75.2" fill="#2e2e2e"/>
<rect x="177.0" y="1012.8" width="3" height="71.7" fill="#2e2e2e"/>
<rect x="236.2" y="1012.8" width="3" height="67.2" fill="#2e2e2e"/>
<rect x="295.3" y="1012.8" width="3" height="64.9" fill="#2e2e2e"/>
<rect x="354.5" y="1012.8" width="3" height="62.6" fill="#2e2e2e"/>
<rect x="413.7" y="1012.8" width="3" height="63.7" fill="#2e2e2e"/>
<path d="M86.0 1118.0C95.0 1135.0 150.0 1138.0 206.5 1133.8C280.0 1129.0 340.0 1121.0 390.0 1121.0C430.0 1122.0 460.0 1135.0 485.2 1149.7C450.0 1140.0 400.0 1137.0 343.0 1139.5C280.0 1148.0 230.0 1166.0 161.0 1173.6C120.0 1172.0 92.0 1150.0 86.0 1118.0Z" fill="url(#waterG)"/>
<path d="M118.9 1085.0L132.4 1145.0A13.5 4 0 0 1 105.4 1145.0Z" fill="url(#coneG)"/>
<path d="M178.5 1081.5L192.0 1151.0A13.5 4 0 0 1 165.0 1151.0Z" fill="url(#coneG)"/>
<path d="M237.7 1077.0L251.2 1145.0A13.5 4 0 0 1 224.2 1145.0Z" fill="url(#coneG)"/>
<path d="M296.8 1074.7L310.3 1136.0A13.5 4 0 0 1 283.3 1136.0Z" fill="url(#coneG)"/>
<path d="M356.0 1072.4L369.5 1131.5A13.5 4 0 0 1 342.5 1131.5Z" fill="url(#coneG)"/>
<path d="M415.2 1073.5L428.7 1132.7A13.5 4 0 0 1 401.7 1132.7Z" fill="url(#coneG)"/>
<path d="M1310.4 695.0L1323.6 695.0L1329.0 982.0L1305.0 982.0Z" fill="url(#towerG)"/>
<path d="M1311.5 683.0L1277.6 539.7L1334.7 660.4L1323.0 681.0Z" fill="url(#bladeG)" stroke="#7c7c7c" stroke-width="0.9" stroke-linejoin="round"/>
<path d="M1310.0 686.0L1283.0 689.5L1207.5 799.0L1311.5 696.5Z" fill="url(#bladeG2)" stroke="#7c7c7c" stroke-width="0.9" stroke-linejoin="round"/>
<path d="M1324.0 690.5L1466.2 730.0L1333.6 719.7L1322.0 699.0Z" fill="url(#bladeG2)" stroke="#7c7c7c" stroke-width="0.9" stroke-linejoin="round"/>
<circle cx="1316.8" cy="689.5" r="8.6" fill="url(#hubG)" stroke="#8a8a8a" stroke-width="0.6"/>
<ellipse cx="1097.7" cy="1172.7" rx="95" ry="2.5" fill="#777" opacity="0.3" filter="url(#blur2)"/>
<rect x="1050.7" y="979.8" width="288.3" height="12.7" fill="#3a3a3a"/>
<rect x="1050.7" y="983.4" width="288.3" height="4.6" fill="#cfcfc3"/>
<rect x="1023.9" y="992.5" width="341.9" height="140" fill="url(#damG)"/>
<path d="M1023.9 1010.5L1023.9 1133.5L1365.8 1133.5L1365.8 1074.5Q1223.9 1068.5 1143.9 1058.5Q1053.9 1038.5 1028.9 1010.5Z" fill="#d9d8d0" opacity="0.55"/>
<rect x="1023.9" y="992.5" width="341.9" height="6.2" fill="#eeede7"/>
<rect x="1028.9" y="998.7" width="334" height="9.8" fill="#9d9e92"/>
<rect x="1023.9" y="1008.7" width="2" height="120" fill="#d2d1c9"/>
<rect x="1363.8" y="1008.7" width="2" height="120" fill="#d2d1c9"/>
<rect x="1075.0" y="1008.5" width="3.4" height="125" fill="#a0a095"/>
<rect x="1133.9" y="1008.5" width="3.4" height="125" fill="#a0a095"/>
<rect x="1193.0" y="1008.5" width="3.4" height="125" fill="#a0a095"/>
<rect x="1252.2" y="1008.5" width="3.4" height="125" fill="#a0a095"/>
<rect x="1311.4" y="1008.5" width="3.4" height="125" fill="#a0a095"/>
<rect x="1045.1" y="1008.5" width="3" height="75.2" fill="#2e2e2e"/>
<rect x="1104.7" y="1008.5" width="3" height="71.7" fill="#2e2e2e"/>
<rect x="1163.9" y="1008.5" width="3" height="67.2" fill="#2e2e2e"/>
<rect x="1223.0" y="1008.5" width="3" height="64.9" fill="#2e2e2e"/>
<rect x="1282.2" y="1008.5" width="3" height="62.6" fill="#2e2e2e"/>
<rect x="1341.4" y="1008.5" width="3" height="63.7" fill="#2e2e2e"/>
<path d="M1013.7 1113.7C1022.7 1130.7 1077.7 1133.7 1134.2 1129.5C1207.7 1124.7 1267.7 1116.7 1317.7 1116.7C1357.7 1117.7 1387.7 1130.7 1412.9 1145.4C1377.7 1135.7 1327.7 1132.7 1270.7 1135.2C1207.7 1143.7 1157.7 1161.7 1088.7 1169.3C1047.7 1167.7 1019.7 1145.7 1013.7 1113.7Z" fill="url(#waterG)"/>
<path d="M1046.6 1080.7L1060.1 1140.7A13.5 4 0 0 1 1033.1 1140.7Z" fill="url(#coneG)"/>
<path d="M1106.2 1077.2L1119.7 1146.7A13.5 4 0 0 1 1092.7 1146.7Z" fill="url(#coneG)"/>
<path d="M1165.4 1072.7L1178.9 1140.7A13.5 4 0 0 1 1151.9 1140.7Z" fill="url(#coneG)"/>
<path d="M1224.5 1070.4L1238.0 1131.7A13.5 4 0 0 1 1211.0 1131.7Z" fill="url(#coneG)"/>
<path d="M1283.7 1068.1L1297.2 1127.2A13.5 4 0 0 1 1270.2 1127.2Z" fill="url(#coneG)"/>
<path d="M1342.9 1069.2L1356.4 1128.4A13.5 4 0 0 1 1329.4 1128.4Z" fill="url(#coneG)"/>
<ellipse cx="1400" cy="1098.5" rx="48" ry="1.8" fill="#888" opacity="0.35" filter="url(#blur2)"/>
<path d="M1398.4 772.6L1411.6 772.6L1416.0 1093.0L1393.0 1093.0Z" fill="url(#towerG)"/>
<path d="M1378.0 1089.5L1378.0 1096.5A26.5 5 0 0 0 1431.0 1096.5L1431.0 1089.5Z" fill="url(#baseG)"/>
<ellipse cx="1404.5" cy="1089.5" rx="26.5" ry="5" fill="#d6d6d6"/>
<path d="M1393.5 1075.5L1415.5 1075.5L1415.5 1090.5L1393.5 1090.5Z" fill="url(#towerG)"/>
<ellipse cx="1404.5" cy="1090.5" rx="11.0" ry="2" fill="url(#towerG)"/>
<path d="M1399.5 760.6L1365.6 617.3L1422.7 738.0L1411.0 758.6Z" fill="url(#bladeG)" stroke="#7c7c7c" stroke-width="0.9" stroke-linejoin="round"/>
<path d="M1398.0 763.6L1371.0 767.1L1295.5 876.6L1399.5 774.1Z" fill="url(#bladeG2)" stroke="#7c7c7c" stroke-width="0.9" stroke-linejoin="round"/>
<path d="M1412.0 768.1L1554.2 807.6L1421.6 797.3L1410.0 776.6Z" fill="url(#bladeG2)" stroke="#7c7c7c" stroke-width="0.9" stroke-linejoin="round"/>
<circle cx="1404.8" cy="767.1" r="8.6" fill="url(#hubG)" stroke="#8a8a8a" stroke-width="0.6"/>
<ellipse cx="1694.0" cy="1053.4" rx="67.0" ry="1.5" fill="#888" opacity="0.4" filter="url(#blur2)"/>
<rect x="1669.2" y="984.6" width="12.5" height="69.7" fill="url(#poleG)"/>
<ellipse cx="1675.4" cy="1057.6" rx="25.9" ry="5.9" fill="#a8a99d"/>
<ellipse cx="1675.4" cy="1054.8" rx="25.9" ry="5.4" fill="#d9d9cf"/>
<rect x="1669.2" y="1040.4" width="12.5" height="14.4" fill="url(#poleG)"/>
<path d="M1577.9 977.2L1777.4 977.2L1778.3 985.5L1773.7 990.6L1582.1 990.6L1577.5 985.5Z" fill="url(#spBand)"/>
<path d="M1602.6 891.6L1748.6 891.6L1753.2 895.3L1777.9 975.3L1774.6 980.0L1580.7 980.0L1577.5 975.3L1597.9 895.3Z" fill="#e2e1d8" stroke="#d2d1c6" stroke-width="0.6" stroke-linejoin="round"/>
<clipPath id="spB"><path d="M1604.9 893.9L1746.2 893.9L1750.0 897.2L1773.2 973.4L1770.4 977.0L1584.4 977.0L1581.6 973.4L1601.2 897.2Z"/></clipPath>
<g clip-path="url(#spB)">
<path d="M1604.9 893.9L1746.2 893.9L1750.0 897.2L1773.2 973.4L1770.4 977.0L1584.4 977.0L1581.6 973.4L1601.2 897.2Z" fill="#3f8fd3"/>
<path d="M1577.5 891.6L1754.2 891.6L1754.2 894.4Q1664.9 940.9 1577.5 965.1Z" fill="url(#spBlueLight)" opacity="0.95"/>
<path d="M1636.9 891.6L1627.6 980.0M1674.4 891.6L1674.4 980.0M1718.4 891.6L1726.7 980.0" stroke="#e9e6da" stroke-width="3.7" fill="none"/>
<path d="M1572.8 934.0L1786.7 934.0" stroke="#e9e6da" stroke-width="3.3" fill="none"/>
<path d="M1572.8 904.6L1786.7 904.6" stroke="#eeece2" stroke-width="1.5" fill="none" opacity="0.9"/>
</g>
<ellipse cx="1557.0" cy="1038.4" rx="72.0" ry="1.6" fill="#888" opacity="0.4" filter="url(#blur2)"/>
<rect x="1530.4" y="964.4" width="13.4" height="75.0" fill="url(#poleG)"/>
<ellipse cx="1537.0" cy="1042.9" rx="27.8" ry="6.3" fill="#a8a99d"/>
<ellipse cx="1537.0" cy="1039.9" rx="27.8" ry="5.8" fill="#d9d9cf"/>
<rect x="1530.4" y="1024.4" width="13.4" height="15.5" fill="url(#poleG)"/>
<path d="M1432.2 956.4L1646.7 956.4L1647.7 965.4L1642.7 970.9L1436.7 970.9L1431.7 965.4Z" fill="url(#spBand)"/>
<path d="M1458.7 864.4L1615.7 864.4L1620.7 868.4L1647.2 954.4L1643.7 959.4L1435.2 959.4L1431.7 954.4L1453.7 868.4Z" fill="#e2e1d8" stroke="#d2d1c6" stroke-width="0.6" stroke-linejoin="round"/>
<clipPath id="spA"><path d="M1461.2 866.9L1613.2 866.9L1617.2 870.4L1642.2 952.4L1639.2 956.2L1439.2 956.2L1436.2 952.4L1457.2 870.4Z"/></clipPath>
<g clip-path="url(#spA)">
<path d="M1461.2 866.9L1613.2 866.9L1617.2 870.4L1642.2 952.4L1639.2 956.2L1439.2 956.2L1436.2 952.4L1457.2 870.4Z" fill="#3f8fd3"/>
<path d="M1431.7 864.4L1621.7 864.4L1621.7 867.4Q1525.7 917.4 1431.7 943.4Z" fill="url(#spBlueLight)" opacity="0.95"/>
<path d="M1495.6 864.4L1485.6 959.4M1536.0 864.4L1536.0 959.4M1583.3 864.4L1592.2 959.4" stroke="#e9e6da" stroke-width="4.0" fill="none"/>
<path d="M1426.7 910.0L1656.7 910.0" stroke="#e9e6da" stroke-width="3.6" fill="none"/>
<path d="M1426.7 878.4L1656.7 878.4" stroke="#eeece2" stroke-width="1.6" fill="none" opacity="0.9"/>
</g>
<ellipse cx="1747.6" cy="1100.6" rx="59.8" ry="1.3" fill="#888" opacity="0.4" filter="url(#blur2)"/>
<rect x="1725.6" y="1039.2" width="11.1" height="62.2" fill="url(#poleG)"/>
<ellipse cx="1731.0" cy="1104.4" rx="23.1" ry="5.2" fill="#a8a99d"/>
<ellipse cx="1731.0" cy="1101.9" rx="23.1" ry="4.8" fill="#d9d9cf"/>
<rect x="1725.6" y="1089.0" width="11.1" height="12.9" fill="url(#poleG)"/>
<path d="M1644.1 1032.6L1822.1 1032.6L1822.9 1040.0L1818.8 1044.6L1647.8 1044.6L1643.7 1040.0Z" fill="url(#spBand)"/>
<path d="M1666.1 956.2L1796.4 956.2L1800.5 959.5L1822.5 1030.9L1819.6 1035.0L1646.6 1035.0L1643.7 1030.9L1661.9 959.5Z" fill="#e2e1d8" stroke="#d2d1c6" stroke-width="0.6" stroke-linejoin="round"/>
<clipPath id="spC"><path d="M1668.1 958.3L1794.3 958.3L1797.6 961.2L1818.4 1029.2L1815.9 1032.4L1649.9 1032.4L1647.4 1029.2L1664.8 961.2Z"/></clipPath>
<g clip-path="url(#spC)">
<path d="M1668.1 958.3L1794.3 958.3L1797.6 961.2L1818.4 1029.2L1815.9 1032.4L1649.9 1032.4L1647.4 1029.2L1664.8 961.2Z" fill="#3f8fd3"/>
<path d="M1643.7 956.2L1801.4 956.2L1801.4 958.7Q1721.7 1000.2 1643.7 1021.8Z" fill="url(#spBlueLight)" opacity="0.95"/>
<path d="M1696.7 956.2L1688.4 1035.0M1730.2 956.2L1730.2 1035.0M1769.5 956.2L1776.9 1035.0" stroke="#e9e6da" stroke-width="3.3" fill="none"/>
<path d="M1639.5 994.0L1830.4 994.0" stroke="#e9e6da" stroke-width="3.0" fill="none"/>
<path d="M1639.5 967.8L1830.4 967.8" stroke="#eeece2" stroke-width="1.3" fill="none" opacity="0.9"/>
</g>
<rect x="591.0" y="212.0" width="259.0" height="93.6" fill="#dce3f2"/>
<rect x="591.0" y="212.0" width="259.0" height="5" fill="#d4e0f0"/>
<rect x="591.0" y="294.6" width="259.0" height="11" fill="url(#lblBot)"/>
<path d="M591.0 305.1L615.0 305.1L591.0 329.1Z" fill="url(#lblTail)"/>
<text x="717.2" y="253.0" text-anchor="middle" font-family="Liberation Sans, sans-serif" font-weight="bold" font-size="25" fill="#0a5ea8">VERBRAUCHER/</text>
<text x="721.3" y="283.0" text-anchor="middle" font-family="Liberation Sans, sans-serif" font-weight="bold" font-size="25" fill="#0a5ea8">PROSUMER</text>
<rect x="1428.0" y="241.2" width="196.6" height="64.5" fill="#dce3f2"/>
<rect x="1428.0" y="241.2" width="196.6" height="5" fill="#d4e0f0"/>
<rect x="1428.0" y="294.7" width="196.6" height="11" fill="url(#lblBot)"/>
<path d="M1428.0 305.2L1452.0 305.2L1428.0 329.2Z" fill="url(#lblTail)"/>
<text x="1526.2" y="282.8" text-anchor="middle" font-family="Liberation Sans, sans-serif" font-weight="bold" font-size="25" fill="#0a5ea8">SPEICHER</text>
<rect x="524.5" y="1089.3" width="196.4" height="93.4" fill="#dce3f2"/>
<rect x="524.5" y="1089.3" width="196.4" height="12" fill="url(#lblTop)"/>
<path d="M524.5 1089.8L548.5 1089.8L524.5 1066.1Z" fill="url(#lblTailUp)"/>
<text x="622.8" y="1130.7" text-anchor="middle" font-family="Liberation Sans, sans-serif" font-weight="bold" font-size="25" fill="#0a5ea8">ZENTRALE</text>
<text x="622.8" y="1160.4" text-anchor="middle" font-family="Liberation Sans, sans-serif" font-weight="bold" font-size="25" fill="#0a5ea8">ERZEUGER</text>
<rect x="1469.1" y="1089.3" width="196.4" height="93.4" fill="#dce3f2"/>
<rect x="1469.1" y="1089.3" width="196.4" height="12" fill="url(#lblTop)"/>
<path d="M1469.1 1089.8L1493.1 1089.8L1469.1 1066.1Z" fill="url(#lblTailUp)"/>
<text x="1567.3" y="1130.7" text-anchor="middle" font-family="Liberation Sans, sans-serif" font-weight="bold" font-size="25" fill="#0a5ea8">VERTEILTE</text>
<text x="1567.3" y="1160.4" text-anchor="middle" font-family="Liberation Sans, sans-serif" font-weight="bold" font-size="25" fill="#0a5ea8">ERZEUGER</text>
</svg>
</body></html>
